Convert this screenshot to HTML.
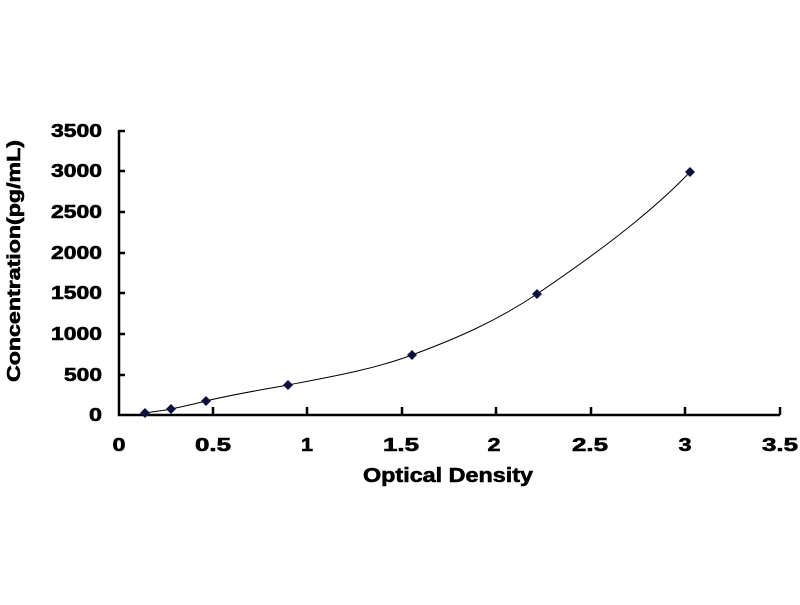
<!DOCTYPE html>
<html><head><meta charset="utf-8"><style>body{margin:0;background:#fff}</style></head><body>
<svg width="800" height="600" xmlns="http://www.w3.org/2000/svg" font-family="Liberation Sans, sans-serif" font-weight="bold">
<rect width="800" height="600" fill="#fff"/>
<g stroke="#000" stroke-width="2.5" fill="none">
<path d="M119,130 V415 H780"/>
<path d="M119,131h6M119,171h6M119,212h6M119,253h6M119,293h6M119,334h6M119,375h6"/>
<path d="M213,415v-8M307,415v-8M402,415v-8M496,415v-8M591,415v-8M685,415v-8M780,415v-8"/>
</g>
<g font-size="18" text-anchor="end" stroke="#000" stroke-width="0.6">
<text x="102" y="137" textLength="51" lengthAdjust="spacingAndGlyphs">3500</text>
<text x="102" y="177" textLength="51" lengthAdjust="spacingAndGlyphs">3000</text>
<text x="102" y="218" textLength="51" lengthAdjust="spacingAndGlyphs">2500</text>
<text x="102" y="259" textLength="51" lengthAdjust="spacingAndGlyphs">2000</text>
<text x="102" y="299" textLength="51" lengthAdjust="spacingAndGlyphs">1500</text>
<text x="102" y="340" textLength="51" lengthAdjust="spacingAndGlyphs">1000</text>
<text x="102" y="381" textLength="38" lengthAdjust="spacingAndGlyphs">500</text>
<text x="102" y="421" textLength="13" lengthAdjust="spacingAndGlyphs">0</text>
</g>
<g font-size="18" text-anchor="middle" stroke="#000" stroke-width="0.6">
<text x="119" y="451" textLength="13" lengthAdjust="spacingAndGlyphs">0</text>
<text x="213" y="451" textLength="36" lengthAdjust="spacingAndGlyphs">0.5</text>
<text x="307" y="451" textLength="12" lengthAdjust="spacingAndGlyphs">1</text>
<text x="401" y="451" textLength="36" lengthAdjust="spacingAndGlyphs">1.5</text>
<text x="494" y="451" textLength="13" lengthAdjust="spacingAndGlyphs">2</text>
<text x="590" y="451" textLength="36" lengthAdjust="spacingAndGlyphs">2.5</text>
<text x="685" y="451" textLength="13" lengthAdjust="spacingAndGlyphs">3</text>
<text x="780" y="451" textLength="36" lengthAdjust="spacingAndGlyphs">3.5</text>
<text x="448" y="482" font-size="20" textLength="170" lengthAdjust="spacingAndGlyphs">Optical Density</text>
<text transform="translate(20,261) rotate(-90)" font-size="18" textLength="242" lengthAdjust="spacingAndGlyphs">Concentration(pg/mL)</text>
</g>
<path d="M145,413 C149,412 162,411 171,409 C181,407 194,404 206,401 C230,395 255,391 288,385 C330,377 375,369 412,355 C455,339 495,322 537,294 C590,258 648,216 690,172" stroke="#000" stroke-width="1" fill="none"/>
<g fill="#0c1040">
<path d="M145,408l5,5-5,5-5-5z"/><path d="M171,404l5,5-5,5-5-5z"/><path d="M206,396l5,5-5,5-5-5z"/>
<path d="M288,380l5,5-5,5-5-5z"/><path d="M412,350l5,5-5,5-5-5z"/><path d="M537,289l5,5-5,5-5-5z"/>
<path d="M690,167l5,5-5,5-5-5z"/>
</g>
</svg>
</body></html>
